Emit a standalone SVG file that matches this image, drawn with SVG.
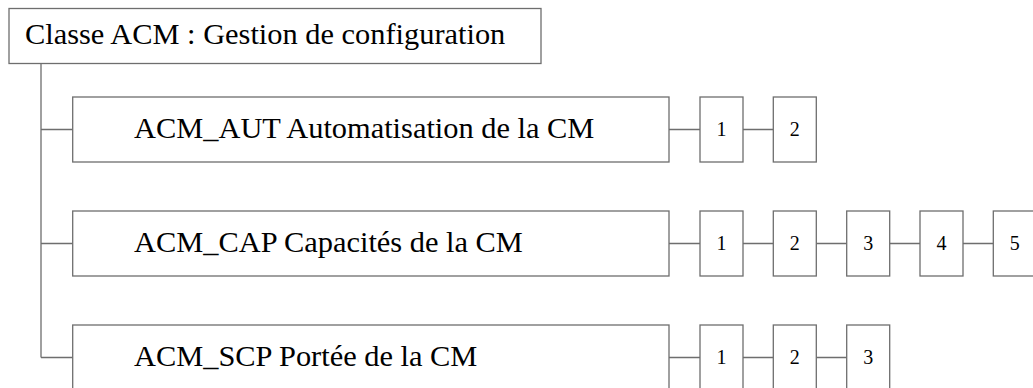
<svg xmlns="http://www.w3.org/2000/svg" width="1033" height="388" viewBox="0 0 1033 388">
<style>
.b{fill:#fff;stroke:#6e6e6e;stroke-width:1.3}
.c{fill:none;stroke:#6e6e6e;stroke-width:1.3}
.t{font-family:"Liberation Serif","Times New Roman",serif;font-size:30.4px;fill:#000}
.n{font-family:"Liberation Serif","Times New Roman",serif;font-size:20px;fill:#000;text-anchor:middle}
</style>
<rect width="1033" height="388" fill="#fff"/>
<g id="connectors">
<path class="c" d="M41 63.5V357.5M41 129.5H72.7M41 243.5H72.7M41 357.5H72.7"/>
<path class="c" d="M669 129.5H700M743 129.5H773.3"/>
<path class="c" d="M669 243.5H700M743 243.5H773.3M816.3 243.5H846.7M889.7 243.5H920M963 243.5H993.3"/>
<path class="c" d="M669 357.5H700M743 357.5H773.3M816.3 357.5H846.7"/>
</g>
<g id="root"><rect class="b" x="9" y="8.5" width="532" height="55"/><text class="t" x="25" y="44">Classe ACM : Gestion de configuration</text></g>
<g id="aut"><rect class="b" x="72.7" y="97" width="596.3" height="65"/><text class="t" x="134" y="138.3">ACM_AUT Automatisation de la CM</text></g>
<g id="aut1"><rect class="b" x="700" y="97" width="43" height="65"/><text class="n" x="721.5" y="136">1</text></g>
<g id="aut2"><rect class="b" x="773.3" y="97" width="43" height="65"/><text class="n" x="794.8" y="136">2</text></g>
<g id="cap"><rect class="b" x="72.7" y="211" width="596.3" height="65"/><text class="t" x="134" y="252.3">ACM_CAP Capacités de la CM</text></g>
<g id="cap1"><rect class="b" x="700" y="211" width="43" height="65"/><text class="n" x="721.5" y="250">1</text></g>
<g id="cap2"><rect class="b" x="773.3" y="211" width="43" height="65"/><text class="n" x="794.8" y="250">2</text></g>
<g id="cap3"><rect class="b" x="846.7" y="211" width="43" height="65"/><text class="n" x="868.2" y="250">3</text></g>
<g id="cap4"><rect class="b" x="920" y="211" width="43" height="65"/><text class="n" x="941.5" y="250">4</text></g>
<g id="cap5"><rect class="b" x="993.3" y="211" width="43" height="65"/><text class="n" x="1014.8" y="250">5</text></g>
<g id="scp"><rect class="b" x="72.7" y="325" width="596.3" height="65"/><text class="t" x="134" y="366.3">ACM_SCP Portée de la CM</text></g>
<g id="scp1"><rect class="b" x="700" y="325" width="43" height="65"/><text class="n" x="721.5" y="364">1</text></g>
<g id="scp2"><rect class="b" x="773.3" y="325" width="43" height="65"/><text class="n" x="794.8" y="364">2</text></g>
<g id="scp3"><rect class="b" x="846.7" y="325" width="43" height="65"/><text class="n" x="868.2" y="364">3</text></g>
</svg>
